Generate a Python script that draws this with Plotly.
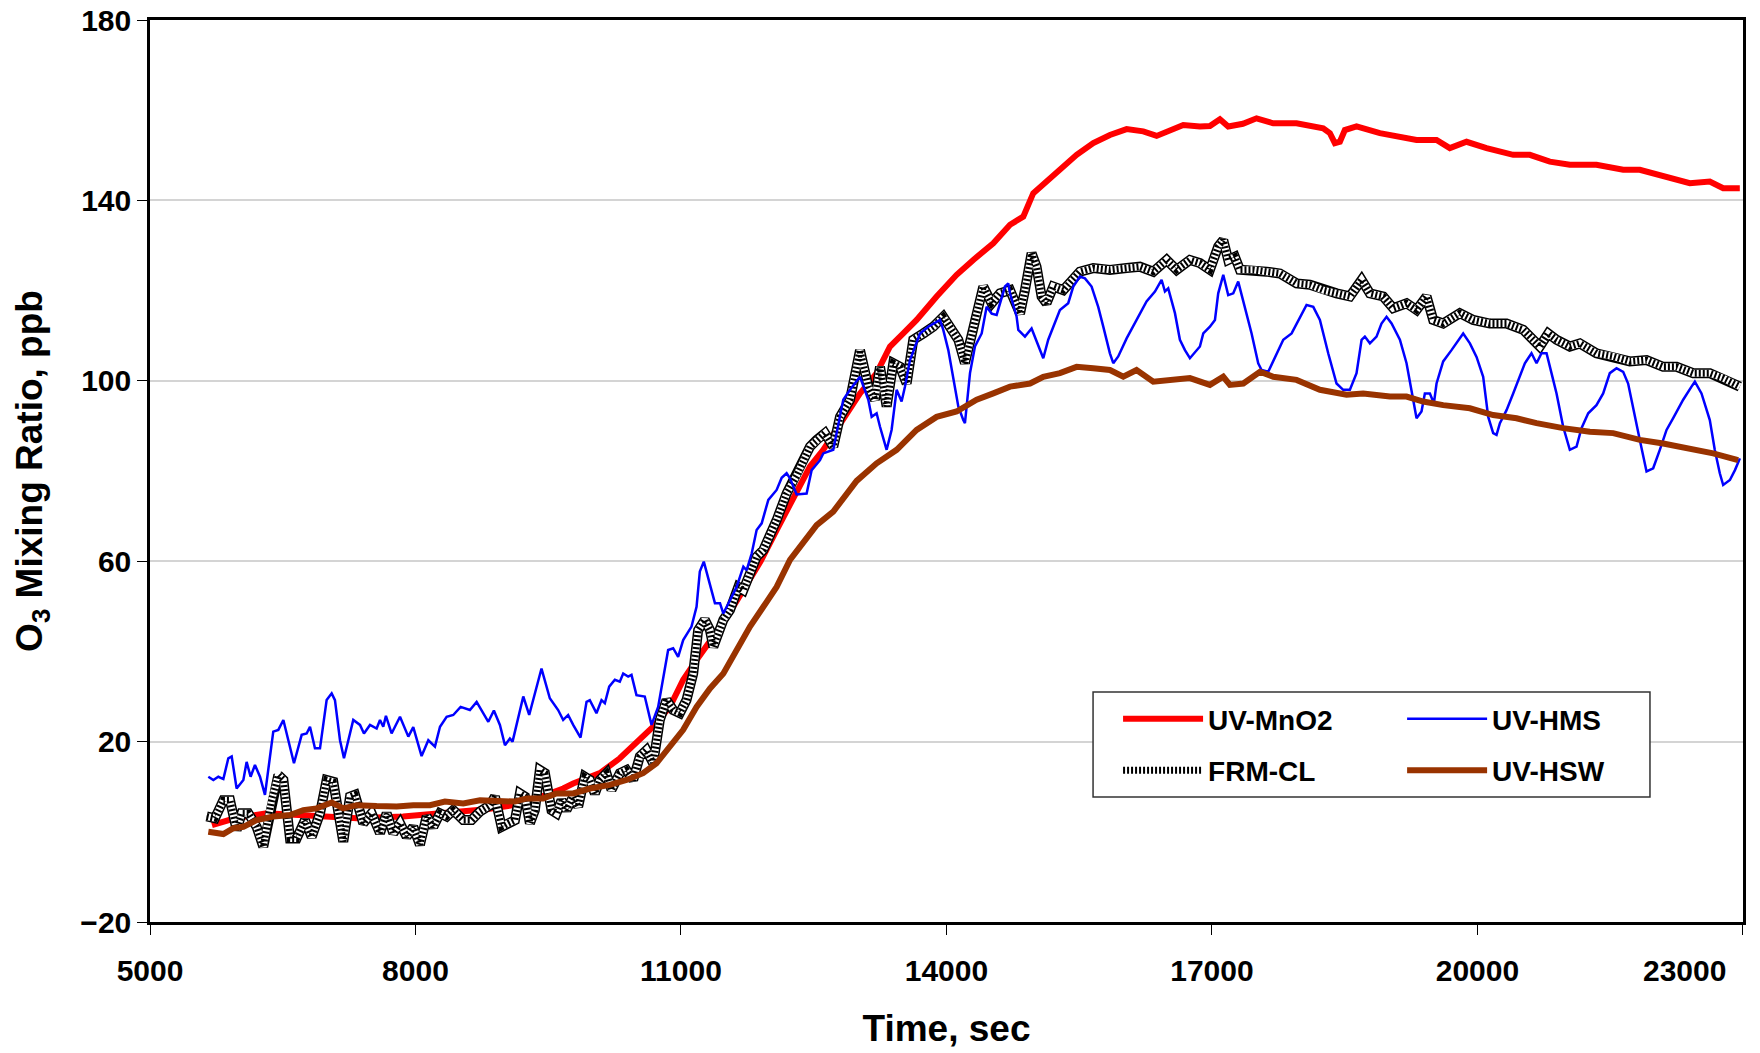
import plotly.graph_objects as go

# UV-MnO2 (red)
t_mno2 = [5700, 5960, 6320, 7030, 7340, 7860, 8300, 8800, 9200, 9442, 9669, 9782, 10083, 10309,
          10497, 10686, 10874, 11025, 11176, 11307, 11500, 11705, 11900, 12081, 12270, 12458,
          12608, 12834, 13023, 13211, 13362, 13512, 13663, 13889, 14115, 14303, 14529, 14718,
          14868, 14981, 15170, 15320, 15471, 15659, 15847, 16036, 16224, 16375, 16525, 16676,
          16864, 16977, 17090, 17184, 17350, 17504, 17693, 17956, 18257, 18333, 18389, 18446,
          18502, 18634, 18898, 19086, 19312, 19538, 19688, 19877, 20103, 20404, 20592, 20818,
          21044, 21345, 21647, 21835, 22099, 22400, 22626, 22777, 22965]
v_mno2 = [1.5, 3.0, 4.1, 3.4, 3.0, 3.4, 4.0, 5.0, 6.2, 7.8, 9.6, 10.7, 13.0, 16.3,
          19.6, 23.3, 27.7, 33.7, 38.1, 41.8, 47.0, 53.6, 60.0, 66.9, 74.3, 81.0,
          84.7, 91.3, 97.2, 101.7, 107.6, 110.5, 113.5, 118.7, 123.5, 126.8, 130.5, 134.6,
          136.4, 141.6, 144.9, 147.5, 150.1, 152.7, 154.5, 155.8, 155.3, 154.3, 155.6, 156.7,
          156.4, 156.5, 158.0, 156.4, 157.0, 158.2, 157.1, 157.1, 156.0, 154.9, 152.7, 153.0,
          155.6, 156.4, 154.9, 154.1, 153.4, 153.4, 151.6, 153.0, 151.6, 150.1, 150.1, 148.6,
          147.9, 147.9, 146.8, 146.8, 145.3, 143.8, 144.2, 142.7, 142.7]

# UV-HMS (blue)
t_hms = [5659, 5716, 5772, 5829, 5885, 5923, 5979, 6055, 6092, 6137, 6186, 6243, 6299, 6393,
         6450, 6507, 6563, 6627, 6714, 6770, 6808, 6864, 6921, 6996, 7053, 7090, 7147, 7192,
         7297, 7373, 7418, 7486, 7561, 7599, 7636, 7666, 7730, 7825, 7919, 7975, 8069, 8145,
         8220, 8277, 8352, 8427, 8510, 8615, 8691, 8823, 8886, 8954, 9011, 9067, 9097, 9218,
         9285, 9349, 9424, 9518, 9612, 9669, 9725, 9782, 9865, 9933, 9970, 10045, 10102, 10140,
         10189, 10253, 10309, 10347, 10403, 10441, 10497, 10591, 10667, 10742, 10799, 10855,
         10912, 10968, 11025, 11119, 11176, 11213, 11258, 11318, 11384, 11441, 11479, 11629,
         11705, 11742, 11799, 11855, 11912, 11987, 12081, 12138, 12194, 12232, 12307, 12420,
         12477, 12571, 12608, 12721, 12834, 12910, 13023, 13117, 13155, 13211, 13249, 13324,
         13380, 13437, 13493, 13531, 13588, 13701, 13795, 13927, 13964, 14021, 14077, 14134,
         14190, 14209, 14266, 14322, 14398, 14454, 14511, 14567, 14661, 14699, 14718, 14793,
         14812, 14887, 14962, 15037, 15094, 15150, 15226, 15282, 15376, 15433, 15508, 15565,
         15640, 15715, 15772, 15847, 15885, 15941, 16036, 16148, 16261, 16356, 16431, 16469,
         16506, 16582, 16638, 16695, 16751, 16864, 16902, 16977, 17034, 17071, 17128, 17184,
         17241, 17297, 17372, 17448, 17523, 17561, 17636, 17711, 17806, 17900, 17994, 18069,
         18145, 18220, 18314, 18408, 18483, 18559, 18634, 18691, 18728, 18785, 18860, 18916,
         18973, 19030, 19124, 19199, 19274, 19312, 19368, 19406, 19463, 19508, 19538, 19613,
         19707, 19783, 19839, 19915, 19990, 20065, 20122, 20178, 20216, 20254, 20329, 20404,
         20479, 20536, 20611, 20668, 20724, 20781, 20837, 20894, 20969, 21044, 21120, 21176,
         21252, 21345, 21421, 21496, 21572, 21647, 21703, 21760, 21835, 21911, 21986, 22061,
         22137, 22212, 22325, 22419, 22457, 22532, 22626, 22682, 22739, 22777, 22853, 22910,
         22966]
v_hms = [12.2, 11.5, 12.2, 11.7, 16.3, 16.7, 9.6, 11.5, 15.5, 12.2, 14.8, 12.2, 8.2, 22.2,
         22.6, 24.8, 20.3, 15.2, 21.5, 21.8, 23.3, 18.5, 18.5, 29.2, 30.7, 29.2, 20.3, 16.3,
         24.8, 23.7, 21.8, 23.7, 22.9, 24.8, 23.3, 25.7, 21.8, 25.5, 21.1, 23.2, 16.8, 20.3,
         18.9, 23.3, 25.5, 25.9, 27.7, 27.0, 28.8, 24.4, 26.9, 23.7, 19.2, 20.7, 20.0, 30.0,
         25.9, 30.7, 36.2, 29.6, 27.0, 24.8, 25.9, 23.7, 20.9, 28.8, 29.2, 26.3, 29.2, 28.5,
         32.2, 33.7, 33.3, 35.1, 34.4, 34.8, 30.3, 30.0, 23.7, 27.7, 33.7, 40.3,
         40.7, 38.8, 42.5, 45.5, 49.9, 57.7, 59.9, 55.8, 50.7, 50.7, 48.4, 54.3,
         58.8, 58.0, 61.7, 66.9, 68.4, 73.6, 75.8, 78.5, 79.5, 78.4, 74.8, 75.0,
         80.2, 82.4, 83.9, 84.7, 95.8, 98.0, 100.9, 95.8, 92.0, 92.8, 89.8, 84.7,
         89.1, 98.0, 95.4, 98.7, 104.6, 110.5, 112.0, 113.5, 111.3, 106.8, 100.9, 94.3,
         91.3, 90.6, 101.7, 107.6, 110.5, 116.4, 114.9, 114.6, 120.9, 121.6, 119.4, 114.2,
         111.3, 109.8, 111.6, 107.6, 105.0, 109.1, 112.7, 115.7, 117.2, 120.9, 123.1, 122.7,
         120.9, 116.4, 112.0, 106.1, 103.9, 105.4, 109.4, 113.5, 117.6, 119.8, 122.4, 119.8,
         120.5, 115.0, 109.1, 106.8, 105.0, 107.6, 110.5, 112.0, 113.5, 119.4, 123.5, 119.0,
         119.4, 122.0, 116.4, 110.5, 103.9, 102.4, 102.0, 105.3, 109.1, 110.5, 114.2, 116.8,
         116.4, 113.5, 106.1, 99.4, 98.0, 98.0, 101.7, 109.1, 109.8, 108.3, 109.8, 112.7,
         114.2, 112.7, 109.1, 103.9, 95.8, 91.7, 93.2, 97.2, 97.2, 95.0, 99.4, 104.3,
         106.8, 109.1, 110.5, 108.3, 105.3, 100.9, 92.0, 88.4, 88.0, 90.6, 93.5, 97.2,
         100.9, 103.9, 106.1, 103.9, 106.1, 106.1, 101.7, 97.2, 89.8, 84.7, 85.4, 89.5,
         92.8, 94.6, 97.2, 101.7, 102.8, 102.0, 99.4, 94.3, 86.9, 79.9, 80.6, 84.7,
         89.1, 91.7, 95.8, 98.7, 99.8, 97.2, 91.3, 84.7, 79.5, 76.9, 78.0, 80.2,
         82.8]

# FRM-CL (checkered)
t_frm = [5640, 5734, 5829, 5904, 5979, 6036, 6111, 6205, 6280, 6374, 6450, 6507, 6582, 6657,
         6751, 6827, 6921, 6996, 7071, 7184, 7260, 7316, 7410, 7504, 7599, 7674, 7749, 7825,
         7900, 7975, 8050, 8126, 8201, 8277, 8352, 8427, 8540, 8634, 8729, 8842, 8898, 8973,
         9048, 9124, 9180, 9237, 9293, 9349, 9405, 9462, 9537, 9593, 9650, 9706, 9782, 9838,
         9913, 9970, 10027, 10083, 10158, 10215, 10309, 10384, 10460, 10535, 10610, 10686,
         10761, 10836, 10912, 10987, 11062, 11138, 11194, 11269, 11328, 11366, 11422, 11479,
         11554, 11648, 11705, 11780, 11855, 11931, 12006, 12081, 12194, 12307, 12458, 12533,
         12627, 12721, 12797, 12910, 13023, 13117, 13192, 13249, 13324, 13399, 13475, 13550,
         13625, 13738, 13851, 13964, 14040, 14134, 14209, 14303, 14416, 14511, 14605, 14718,
         14831, 14887, 14962, 15018, 15075, 15131, 15207, 15320, 15433, 15508, 15659, 15847,
         16036, 16186, 16337, 16488, 16601, 16751, 16864, 16977, 17071, 17128, 17184, 17259,
         17316, 17467, 17617, 17768, 17956, 18107, 18257, 18408, 18559, 18691, 18785, 18935,
         19048, 19199, 19312, 19425, 19500, 19613, 19801, 19952, 20141, 20329, 20517, 20630,
         20705, 20800, 20894, 21044, 21157, 21345, 21534, 21722, 21911, 22099, 22250, 22438,
         22626, 22777, 22965]
v_frm = [3.4, 3.0, 7.0, 7.0, 0.4, 4.1, 4.1, 1.1, -3.3, 7.0, 12.6, 11.5, -1.5, -1.5,
         2.6, -1.1, 4.1, 11.5, 11.1, -2.2, 7.8, 8.2, 1.9, 4.1, -0.3, 4.1, -0.3, 1.9,
         -1.1, 1.1, -2.9, 3.4, 1.1, 4.1, 3.4, 4.8, 2.6, 2.6, 4.5, 5.9, 7.8, 1.1,
         1.9, 2.6, 8.5, 7.8, 1.9, 4.8, 13.7, 13.0, 4.8, 4.1, 7.0, 4.8, 7.8, 5.6,
         12.2, 11.5, 8.5, 11.5, 13.0, 9.3, 13.0, 13.7, 11.5, 16.7, 18.1, 15.2,
         24.8, 29.2, 27.0, 26.3, 29.2, 35.1, 44.7, 47.0, 44.7, 41.0, 44.0, 47.0,
         49.2, 54.3, 53.6, 57.3, 61.0, 62.5, 65.4, 69.1, 75.0, 79.0, 85.4, 86.9,
         88.4, 85.4, 92.0, 95.8, 106.8, 98.7, 95.8, 103.1, 94.3, 103.9, 103.1, 99.4,
         109.1, 110.5, 112.0, 114.2, 112.0, 109.1, 103.9, 112.0, 120.9, 117.2, 119.4, 120.1,
         114.9, 120.1, 128.3, 125.3, 118.7, 117.2, 120.9, 120.1, 122.4, 124.2, 125.0, 124.6,
         125.0, 125.3, 124.2, 126.8, 124.6, 126.8, 126.1, 124.6, 129.8, 131.2, 126.8, 127.5,
         124.6, 124.6, 124.2, 123.8, 121.6, 121.3, 120.1, 119.4, 118.7, 122.4, 119.4, 118.7,
         116.1, 117.2, 115.7, 118.7, 113.5, 112.7, 115.0, 113.5, 112.7, 112.7, 111.3, 109.1,
         107.6, 110.5, 109.1, 107.6, 108.3, 106.1, 105.4, 104.3, 104.6, 103.1, 103.1, 101.7,
         101.7, 100.6, 98.7]

# UV-HSW (brown)
t_hsw = [5659, 5753, 5829, 5942, 6055, 6205, 6393, 6582, 6733, 6883, 7053, 7184, 7335, 7561,
         7787, 7975, 8163, 8333, 8540, 8729, 8917, 9124, 9256, 9442, 9593, 9782, 9970, 10196,
         10384, 10572, 10723, 10874, 11025, 11176, 11328, 11479, 11629, 11780, 11931, 12081,
         12232, 12383, 12533, 12721, 12834, 12985, 13211, 13437, 13663, 13889, 14115, 14341,
         14529, 14718, 14944, 15094, 15282, 15471, 15659, 15847, 15998, 16148, 16337, 16525,
         16751, 16977, 17128, 17203, 17354, 17542, 17693, 17956, 18220, 18521, 18709, 19011,
         19199, 19387, 19613, 19915, 20178, 20442, 20668, 20969, 21270, 21534, 21835, 22099,
         22400, 22664, 22946]
v_hsw = [0.0, -0.3, -0.5, 0.8, 1.1, 2.6, 3.4, 3.7, 4.8, 5.2, 6.5, 5.2, 5.9, 5.7,
         5.6, 5.9, 5.9, 6.7, 6.3, 7.0, 7.0, 6.7, 7.4, 7.4, 8.5, 8.5, 9.6, 10.4,
         11.5, 13.0, 15.2, 18.9, 22.6, 27.7, 31.8, 35.1, 40.3, 45.5, 49.9, 54.3,
         60.3, 64.0, 68.0, 71.0, 74.0, 77.8, 81.7, 84.7, 89.1, 92.0, 93.2, 95.8,
         97.2, 98.7, 99.4, 100.9, 101.7, 103.1, 102.8, 102.4, 100.9, 102.4, 99.8, 100.2,
         100.6, 99.1, 100.9, 99.1, 99.4, 102.0, 100.9, 100.2, 98.0, 96.9, 97.2, 96.5,
         96.5, 95.4, 94.6, 93.9, 92.4, 91.7, 90.6, 89.5, 88.7, 88.4, 86.9, 86.1,
         85.0, 83.9, 82.4]

x_ticks = [5000, 8000, 11000, 14000, 17000, 20000, 23000]
# the last label sits left of its tick in the original; it is drawn as an annotation below
x_ticktext = ["5000", "8000", "11000", "14000", "17000", "20000", ""]
y_ticks = [-20, 20, 60, 100, 140, 180]

FONT = "Liberation Sans, Arial, sans-serif"
TICKFONT = dict(family=FONT, size=30, weight="bold", color="black")

fig = go.Figure()

fig.add_trace(go.Scatter(x=t_mno2, y=v_mno2, mode="lines", name="UV-MnO2",
                         legend="legend", legendgroup="a",
                         line=dict(color="#FF0000", width=6)))
# checkered look: black edge, white core, black short dashes
fig.add_trace(go.Scatter(x=t_frm, y=v_frm, mode="lines", showlegend=False,
                         line=dict(color="black", width=10), hoverinfo="skip"))
fig.add_trace(go.Scatter(x=t_frm, y=v_frm, mode="lines", showlegend=False,
                         line=dict(color="white", width=7), hoverinfo="skip"))
fig.add_trace(go.Scatter(x=t_frm, y=v_frm, mode="lines", name="FRM-CL",
                         legend="legend", legendgroup="b",
                         line=dict(color="black", width=7, dash="2px,2px")))
fig.add_trace(go.Scatter(x=t_hms, y=v_hms, mode="lines", name="UV-HMS",
                         legend="legend2", legendgroup="c",
                         line=dict(color="#0000FF", width=2.5)))
fig.add_trace(go.Scatter(x=t_hsw, y=v_hsw, mode="lines", name="UV-HSW",
                         legend="legend2", legendgroup="d",
                         line=dict(color="#993300", width=6)))

legend_style = dict(
    y=0.2527, yanchor="top", xanchor="left",
    orientation="v", traceorder="grouped", tracegroupgap=12,
    itemwidth=80, bgcolor="rgba(0,0,0,0)", borderwidth=0,
    font=dict(family=FONT, size=28, weight="bold", color="black"),
)

fig.update_layout(
    width=1760, height=1053,
    margin=dict(l=150, r=17, t=20, b=131),
    paper_bgcolor="white", plot_bgcolor="white",
    font=dict(family=FONT, color="black"),
    legend=dict(x=0.6077, **legend_style),
    legend2=dict(x=0.786, **legend_style),
    shapes=[dict(type="rect", xref="paper", yref="paper",
                 x0=0.592, x1=0.9416, y0=0.1386, y1=0.255,
                 line=dict(color="#333333", width=1.5), fillcolor="white", layer="above")],
    annotations=[dict(text=str(x_ticks[-1]), x=x_ticks[-1], xref="x", y=0, yref="paper",
                      xanchor="right", yanchor="middle", xshift=-15, yshift=-48,
                      showarrow=False, font=TICKFONT)],
)

fig.update_xaxes(
    range=[5000, 23001], tickmode="array", tickvals=x_ticks, ticktext=x_ticktext,
    showline=True, linecolor="black", linewidth=2.5, mirror=True,
    ticks="outside", ticklen=10, tickcolor="black", tickwidth=1,
    showgrid=False, zeroline=False, automargin=False,
    tickfont=TICKFONT, ticklabelstandoff=10,
    title=dict(text="Time, sec", font=dict(family=FONT, size=37, weight="bold"), standoff=30),
)
fig.update_yaxes(
    range=[-20, 180], tickmode="array", tickvals=y_ticks,
    showline=True, linecolor="black", linewidth=2.5, mirror=True,
    ticks="outside", ticklen=10, tickcolor="black", tickwidth=1,
    showgrid=True, gridcolor="#d4d4d4", gridwidth=1.5, zeroline=False, automargin=False,
    tickfont=TICKFONT, ticklabelstandoff=0,
    title=dict(text="O<sub>3</sub> Mixing Ratio, ppb", font=dict(family=FONT, size=37, weight="bold"),
               standoff=27),
)

fig.write_html("out.html", config={"displayModeBar": False},
               post_script="document.body.style.margin='0';")
